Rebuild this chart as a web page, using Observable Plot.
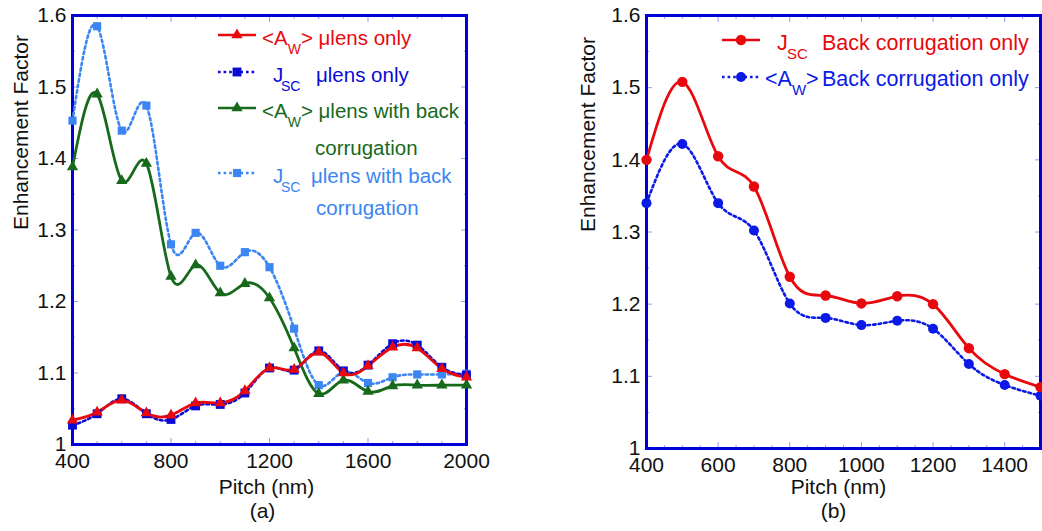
<!DOCTYPE html>
<html><head><meta charset="utf-8">
<script src="https://cdn.jsdelivr.net/npm/d3@7"></script>
<script src="https://cdn.jsdelivr.net/npm/@observablehq/plot@0.6"></script>
<style>
body{margin:0;background:#fff;}
#wrap{position:relative;width:1042px;height:531px;overflow:hidden;background:#fff;}
#wrap > svg{position:absolute;top:0;}
</style></head><body><div id="wrap"></div>
<script>
// ---------- data: panel (a) ----------
const pitchA = [400, 500, 600, 700, 800, 900, 1000, 1100, 1200, 1300, 1400, 1500, 1600, 1700, 1800, 1900, 2000];
const awLensOnly   = [1.034, 1.045, 1.062, 1.044, 1.041, 1.058, 1.058, 1.075, 1.107, 1.105, 1.129, 1.100, 1.110, 1.136, 1.135, 1.106, 1.094];
const jscLensOnly  = [1.027, 1.043, 1.064, 1.043, 1.035, 1.054, 1.056, 1.072, 1.107, 1.104, 1.131, 1.103, 1.111, 1.141, 1.139, 1.108, 1.097];
const awLensBack   = [1.388, 1.490, 1.369, 1.393, 1.235, 1.251, 1.212, 1.225, 1.205, 1.135, 1.071, 1.090, 1.074, 1.082, 1.083, 1.083, 1.083];
const jscLensBack  = [1.453, 1.585, 1.439, 1.474, 1.280, 1.296, 1.250, 1.269, 1.248, 1.162, 1.083, 1.102, 1.086, 1.094, 1.098, 1.098, 1.099];
const xLabelsA = [400, 800, 1200, 1600, 2000];
const xMinorA  = [500, 600, 700, 900, 1000, 1100, 1300, 1400, 1500, 1700, 1800, 1900];

// ---------- data: panel (b) ----------
const pitchB = [400, 500, 600, 700, 800, 900, 1000, 1100, 1200, 1300, 1400, 1500];
const jscBackOnly = [1.400, 1.508, 1.405, 1.363, 1.238, 1.212, 1.201, 1.211, 1.200, 1.139, 1.103, 1.085];
const awBackOnly  = [1.340, 1.422, 1.340, 1.302, 1.201, 1.181, 1.171, 1.177, 1.166, 1.117, 1.088, 1.073];
const xLabelsB = [400, 600, 800, 1000, 1200, 1400];
const xMinorB  = [450, 500, 550, 650, 700, 750, 850, 900, 950, 1050, 1100, 1150, 1250, 1300, 1350, 1450];

// ---------- shared y ticks ----------
const yLabels = [1, 1.1, 1.2, 1.3, 1.4, 1.5, 1.6];
const yMinor  = [1.05, 1.15, 1.25, 1.35, 1.45, 1.55];

// ---------- styles ----------
const FONT = '"Liberation Sans", Arial, Helvetica, sans-serif';
const FRAME = "#0000d8";
const TICK = "#9a9af0";
const RED = "#e8090f";
const DBLUE = "#0a0ad6";
const GREEN = "#17691b";
const LBLUE = "#3b86f2";
const BBLUE = "#0b1ae6";
const DASH = "2.6,3";

const rows = (xs, ys) => xs.map((x, i) => ({pitch: x, value: ys[i]}));
const fmtY = d => String(+d.toFixed(1));

function panel(o) {
  const marks = [
    Plot.axisX({anchor: "bottom", ticks: o.xMinor, tickSize: -3, text: null, label: null, stroke: TICK}),
    Plot.axisX({anchor: "top", ticks: o.xMinor, tickSize: -3, text: null, label: null, stroke: TICK}),
    Plot.axisX({anchor: "bottom", ticks: o.xLabels, tickSize: -6, text: null, label: null, stroke: TICK}),
    Plot.axisX({anchor: "top", ticks: o.xLabels, tickSize: -6, text: null, label: null, stroke: TICK}),
    Plot.axisY({anchor: "left", ticks: yMinor, tickSize: -3, text: null, label: null, stroke: TICK}),
    Plot.axisY({anchor: "right", ticks: yMinor, tickSize: -3, text: null, label: null, stroke: TICK}),
    Plot.axisY({anchor: "left", ticks: yLabels, tickSize: -6, text: null, label: null, stroke: TICK}),
    Plot.axisY({anchor: "right", ticks: yLabels, tickSize: -6, text: null, label: null, stroke: TICK}),
    Plot.axisX({anchor: "bottom", ticks: o.xLabels, tickSize: 0, tickPadding: 9, fontSize: 21, label: null, tickFormat: d => String(d), fill: "#111"}),
    Plot.axisY({anchor: "left", ticks: yLabels, tickSize: 0, tickPadding: 6, fontSize: 21, label: null, tickFormat: fmtY, fill: "#111"}),
    Plot.frame({stroke: FRAME, strokeWidth: 3}),
  ];
  for (const s of o.series) {
    marks.push(Plot.line(rows(s.x, s.y), {x: "pitch", y: "value", stroke: s.color, strokeWidth: s.dash ? 2.6 : 2.8, strokeDasharray: s.dash || null, curve: "natural"}));
  }
  for (const s of o.series) {
    marks.push(Plot.dot(rows(s.x, s.y), {x: "pitch", y: "value", symbol: s.symbol, r: s.r, fill: s.color, stroke: "none"}));
  }
  marks.push(
    Plot.text(["Enhancement Factor"], {frameAnchor: "left", rotate: -90, dx: o.ylabDx, fontSize: 21, fill: "#111"}),
    Plot.text(["Pitch (nm)"], {frameAnchor: "bottom", dx: o.xlabDx, dy: o.xlabDy, fontSize: 21, fill: "#111"}),
    Plot.text([o.tag], {frameAnchor: "bottom", dx: o.tagDx, dy: o.tagDy, fontSize: 21, fill: "#111"})
  );
  const svg = Plot.plot({
    width: o.width, height: 531,
    marginLeft: o.marginLeft, marginRight: o.marginRight, marginTop: 15, marginBottom: o.marginBottom,
    x: {domain: o.xDomain},
    y: {domain: [1, 1.6]},
    style: {fontFamily: FONT, background: "transparent", overflow: "visible"},
    marks
  });
  svg.style.left = o.left + "px";
  return svg;
}

const wrap = document.getElementById("wrap");

wrap.appendChild(panel({
  left: 0, width: 560, marginLeft: 72, marginRight: 94, marginBottom: 87,
  xDomain: [400, 2000], xLabels: xLabelsA, xMinor: xMinorA,
  ylabDx: -51, xlabDx: -3, xlabDy: 49, tag: "(a)", tagDx: -7, tagDy: 73,
  series: [
    {x: pitchA, y: jscLensBack, color: LBLUE, dash: DASH, symbol: "square", r: 4.6},
    {x: pitchA, y: awLensBack, color: GREEN, symbol: "triangle", r: 4.2},
    {x: pitchA, y: jscLensOnly, color: DBLUE, dash: DASH, symbol: "square", r: 5},
    {x: pitchA, y: awLensOnly, color: RED, symbol: "triangle", r: 4.2}
  ]
}));

wrap.appendChild(panel({
  left: 560, width: 482, marginLeft: 86, marginRight: 2, marginBottom: 83,
  xDomain: [400, 1500], xLabels: xLabelsB, xMinor: xMinorB,
  ylabDx: -58, xlabDx: -5, xlabDy: 45, tag: "(b)", tagDx: -10, tagDy: 69,
  series: [
    {x: pitchB, y: awBackOnly, color: BBLUE, dash: DASH, symbol: "circle", r: 5},
    {x: pitchB, y: jscBackOnly, color: RED, symbol: "circle", r: 5.2}
  ]
}));

// ---------- legends (overlay) ----------
const leg = d3.select(wrap).append("svg")
  .attr("width", 1042).attr("height", 531)
  .style("left", "0px").style("pointer-events", "none")
  .attr("font-family", FONT);

function swatch(x1, x2, y, color, dash, symType, area) {
  leg.append("line").attr("x1", x1).attr("x2", x2).attr("y1", y).attr("y2", y)
    .attr("stroke", color).attr("stroke-width", 2.6).attr("stroke-dasharray", dash || null);
  leg.append("path").attr("transform", `translate(${(x1 + x2) / 2},${y})`)
    .attr("d", d3.symbol().type(symType).size(area)()).attr("fill", color);
}
function txt(x, y, s, color, size) {
  return leg.append("text").attr("x", x).attr("y", y).attr("fill", color).attr("font-size", size).text(s);
}
function aw(x, y, color, size, subSize, rest) {
  const t = leg.append("text").attr("x", x).attr("y", y).attr("fill", color).attr("font-size", size);
  t.append("tspan").text("<A");
  t.append("tspan").attr("dy", 9).attr("font-size", subSize).text("W");
  t.append("tspan").attr("dy", -9).text(">");
  if (rest) t.append("tspan").text(" " + rest);
}
function jsc(x, y, color, size, subSize, subDx) {
  txt(x, y, "J", color, size);
  txt(x + subDx, y + 9, "SC", color, subSize);
}

// panel (a)
swatch(218, 256, 35, RED, null, d3.symbolTriangle, Math.PI * 4.2 * 4.2);
aw(262, 45, RED, 20.5, 14, "\u03bclens only");
swatch(218, 256, 72, DBLUE, DASH, d3.symbolSquare, Math.PI * 25);
jsc(273, 81.7, DBLUE, 20.5, 14, 8);
txt(316, 81.7, "\u03bclens only", DBLUE, 20.5);
swatch(218, 256, 108, GREEN, null, d3.symbolTriangle, Math.PI * 4.2 * 4.2);
aw(262, 118.3, GREEN, 20.5, 14, "\u03bclens with back");
txt(315, 155, "corrugation", GREEN, 20.5);
swatch(218, 256, 173, LBLUE, DASH, d3.symbolSquare, Math.PI * 4.6 * 4.6);
jsc(273, 182.7, LBLUE, 20.5, 14, 8);
txt(311, 182.7, "\u03bclens with back", LBLUE, 20.5);
txt(316, 215, "corrugation", LBLUE, 20.5);

// panel (b)
swatch(722, 760, 40, RED, null, d3.symbolCircle, Math.PI * 5.2 * 5.2);
jsc(777, 50, RED, 21.5, 15, 10);
txt(822, 50, "Back corrugation only", RED, 21.5);
swatch(722, 760, 77, BBLUE, DASH, d3.symbolCircle, Math.PI * 25);
aw(765, 86, BBLUE, 21.5, 15, null);
txt(822, 86, "Back corrugation only", BBLUE, 21.5);
</script></body></html>
